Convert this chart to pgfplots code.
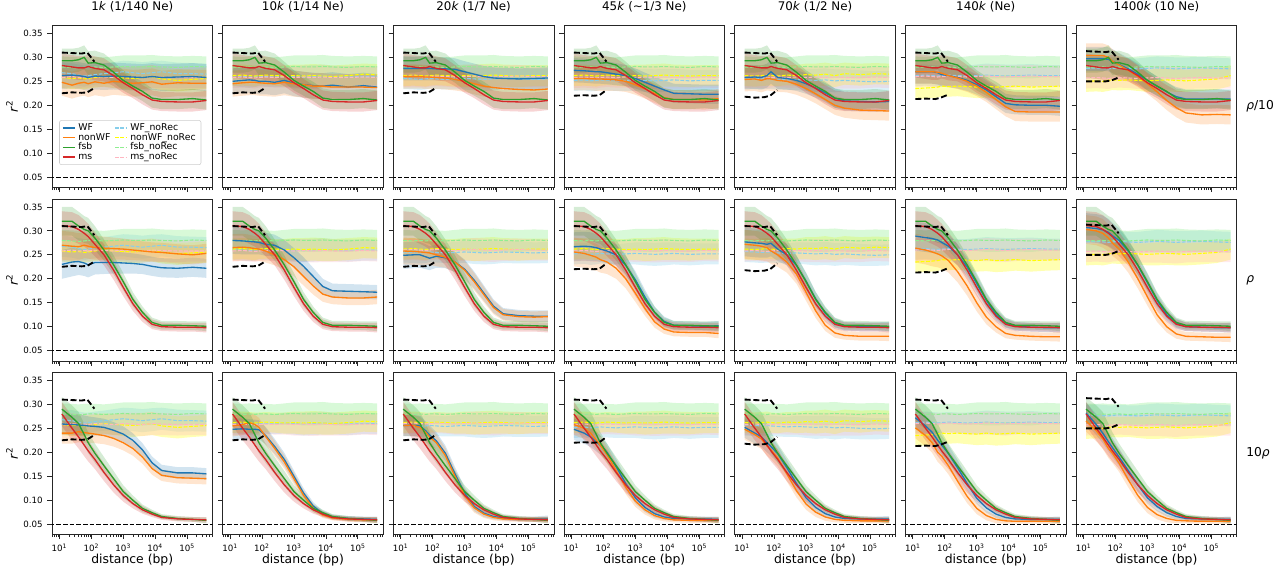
\documentclass[border=0pt]{standalone}
\usepackage{fontspec}
\setmainfont{DejaVu Sans}
\usepackage{pgfplots}
\usepackage{pgfplotstable}
\pgfplotsset{compat=1.18}
\usepgfplotslibrary{fillbetween}

\definecolor{cWF}{HTML}{1F77B4}
\definecolor{cNWF}{HTML}{FF7F0E}
\definecolor{cFSB}{HTML}{2CA02C}
\definecolor{cMS}{HTML}{D62728}
\definecolor{cWFn}{HTML}{87CEEB}
\definecolor{cNWFn}{HTML}{FFFF00}
\definecolor{cFSBn}{HTML}{90EE90}
\definecolor{cMSn}{HTML}{FFB6C1}

\pgfplotstableread{
x fsb ms s
12 0.293 0.283 0.025
25 0.293 0.280 0.025
40 0.295 0.278 0.025
60 0.300 0.278 0.025
80 0.288 0.281 0.025
130 0.289 0.277 0.025
250 0.284 0.274 0.024
500 0.269 0.262 0.022
1000 0.252 0.247 0.021
2000 0.240 0.235 0.020
4000 0.229 0.222 0.020
8000 0.215 0.211 0.020
16000 0.212 0.208 0.020
50000 0.212 0.207 0.020
150000 0.214 0.207 0.020
400000 0.211 0.210 0.020
}\rwa
\pgfplotstableread{
x fsb ms s
12 0.320 0.311 0.030
25 0.320 0.309 0.030
40 0.310 0.303 0.030
60 0.303 0.295 0.028
80 0.300 0.288 0.027
130 0.285 0.272 0.025
250 0.260 0.250 0.022
500 0.229 0.218 0.020
1000 0.194 0.182 0.018
2000 0.157 0.148 0.015
4000 0.130 0.122 0.012
8000 0.109 0.105 0.010
16000 0.103 0.100 0.009
50000 0.103 0.099 0.009
150000 0.102 0.099 0.009
400000 0.101 0.098 0.010
}\rwb
\pgfplotstableread{
x fsb ms s
12 0.290 0.280 0.025
25 0.273 0.250 0.025
40 0.260 0.232 0.024
60 0.237 0.215 0.023
80 0.220 0.203 0.022
130 0.198 0.185 0.020
250 0.172 0.158 0.018
500 0.145 0.132 0.016
1000 0.118 0.110 0.013
2000 0.100 0.093 0.010
4000 0.083 0.080 0.008
8000 0.074 0.071 0.006
16000 0.066 0.064 0.005
50000 0.062 0.061 0.005
150000 0.060 0.060 0.005
400000 0.058 0.059 0.006
}\rwc

\pgfplotstableread{
x wfn nwfn fsbn msn s
12 0.268 0.258 0.280 0.258 0.022
25 0.266 0.256 0.279 0.260 0.022
40 0.263 0.257 0.278 0.258 0.022
60 0.261 0.255 0.279 0.259 0.022
80 0.262 0.256 0.280 0.258 0.021
130 0.264 0.258 0.280 0.260 0.021
250 0.266 0.260 0.279 0.259 0.021
500 0.268 0.258 0.280 0.258 0.022
1000 0.270 0.257 0.281 0.260 0.023
2000 0.268 0.256 0.280 0.259 0.024
4000 0.266 0.258 0.280 0.258 0.024
8000 0.268 0.260 0.281 0.260 0.024
16000 0.270 0.255 0.280 0.259 0.023
50000 0.266 0.252 0.279 0.258 0.023
150000 0.266 0.254 0.281 0.258 0.022
400000 0.265 0.256 0.280 0.258 0.022
}\nra
\pgfplotstableread{
x wfn nwfn fsbn msn s
12 0.262 0.262 0.280 0.258 0.022
25 0.260 0.263 0.279 0.259 0.022
40 0.259 0.262 0.280 0.258 0.022
60 0.260 0.261 0.279 0.257 0.022
80 0.261 0.262 0.280 0.258 0.021
130 0.260 0.263 0.280 0.259 0.021
250 0.259 0.262 0.279 0.258 0.021
500 0.261 0.261 0.280 0.259 0.022
1000 0.260 0.262 0.281 0.258 0.023
2000 0.259 0.261 0.280 0.259 0.024
4000 0.260 0.262 0.280 0.258 0.024
8000 0.261 0.261 0.281 0.259 0.024
16000 0.260 0.260 0.280 0.258 0.023
50000 0.259 0.262 0.279 0.258 0.023
150000 0.260 0.265 0.281 0.259 0.022
400000 0.260 0.264 0.280 0.258 0.022
}\nrb
\pgfplotstableread{
x wfn nwfn fsbn msn s
12 0.256 0.262 0.280 0.260 0.022
25 0.255 0.263 0.279 0.261 0.022
40 0.254 0.262 0.280 0.260 0.022
60 0.255 0.261 0.279 0.259 0.022
80 0.256 0.262 0.280 0.260 0.021
130 0.255 0.263 0.280 0.261 0.021
250 0.254 0.262 0.279 0.260 0.021
500 0.255 0.261 0.280 0.259 0.022
1000 0.256 0.262 0.281 0.260 0.023
2000 0.255 0.261 0.280 0.261 0.024
4000 0.254 0.262 0.280 0.260 0.024
8000 0.255 0.263 0.281 0.259 0.024
16000 0.256 0.262 0.280 0.260 0.023
50000 0.255 0.261 0.279 0.261 0.023
150000 0.254 0.262 0.281 0.260 0.022
400000 0.255 0.262 0.280 0.260 0.022
}\nrc
\pgfplotstableread{
x wfn nwfn fsbn msn s
12 0.252 0.262 0.280 0.258 0.022
25 0.253 0.263 0.279 0.259 0.022
40 0.251 0.262 0.280 0.258 0.022
60 0.252 0.261 0.279 0.257 0.022
80 0.253 0.262 0.280 0.258 0.021
130 0.252 0.263 0.280 0.259 0.021
250 0.251 0.262 0.279 0.258 0.021
500 0.252 0.261 0.280 0.259 0.022
1000 0.253 0.262 0.281 0.258 0.023
2000 0.252 0.261 0.280 0.259 0.024
4000 0.251 0.262 0.280 0.258 0.024
8000 0.252 0.263 0.281 0.259 0.024
16000 0.253 0.262 0.280 0.258 0.023
50000 0.251 0.261 0.279 0.258 0.023
150000 0.252 0.262 0.281 0.259 0.022
400000 0.252 0.262 0.280 0.258 0.022
}\nrd
\pgfplotstableread{
x wfn nwfn fsbn msn s
12 0.257 0.262 0.280 0.258 0.022
25 0.256 0.261 0.279 0.259 0.022
40 0.255 0.262 0.280 0.258 0.022
60 0.256 0.263 0.279 0.257 0.022
80 0.255 0.262 0.280 0.258 0.021
130 0.254 0.261 0.280 0.259 0.021
250 0.253 0.263 0.279 0.258 0.021
500 0.254 0.262 0.280 0.259 0.022
1000 0.253 0.264 0.281 0.258 0.023
2000 0.252 0.263 0.280 0.259 0.024
4000 0.253 0.265 0.280 0.258 0.024
8000 0.251 0.262 0.281 0.259 0.024
16000 0.252 0.266 0.280 0.258 0.023
50000 0.250 0.264 0.279 0.258 0.023
150000 0.249 0.266 0.281 0.259 0.022
400000 0.250 0.265 0.280 0.258 0.022
}\nre
\pgfplotstableread{
x wfn nwfn fsbn msn s
12 0.262 0.235 0.280 0.260 0.022
25 0.263 0.236 0.279 0.261 0.022
40 0.262 0.237 0.280 0.260 0.022
60 0.261 0.238 0.279 0.259 0.022
80 0.262 0.240 0.280 0.260 0.021
130 0.263 0.239 0.280 0.261 0.021
250 0.262 0.240 0.279 0.260 0.021
500 0.261 0.239 0.280 0.259 0.022
1000 0.262 0.238 0.281 0.260 0.023
2000 0.263 0.240 0.280 0.261 0.024
4000 0.262 0.238 0.280 0.260 0.024
8000 0.261 0.239 0.281 0.259 0.024
16000 0.262 0.240 0.280 0.260 0.023
50000 0.263 0.238 0.279 0.261 0.023
150000 0.262 0.239 0.281 0.260 0.022
400000 0.262 0.240 0.280 0.260 0.022
}\nrf
\pgfplotstableread{
x wfn nwfn fsbn msn s
12 0.277 0.250 0.280 0.257 0.022
25 0.278 0.251 0.279 0.258 0.022
40 0.277 0.250 0.280 0.257 0.022
60 0.276 0.252 0.279 0.256 0.022
80 0.277 0.253 0.280 0.257 0.021
130 0.278 0.252 0.280 0.258 0.021
250 0.277 0.253 0.279 0.257 0.021
500 0.276 0.252 0.280 0.256 0.022
1000 0.277 0.251 0.281 0.257 0.023
2000 0.278 0.252 0.280 0.258 0.024
4000 0.277 0.253 0.280 0.257 0.024
8000 0.276 0.252 0.281 0.256 0.024
16000 0.277 0.251 0.280 0.257 0.023
50000 0.278 0.253 0.279 0.258 0.023
150000 0.277 0.255 0.281 0.257 0.022
400000 0.276 0.262 0.280 0.257 0.022
}\nrg

\pgfplotstableread{
x up lo
12 0.310 0.225
25 0.309 0.227
50 0.308 0.226
75 0.310 0.227
125 0.291 0.236
}\bka
\pgfplotstableread{
x up lo
12 0.310 0.220
25 0.309 0.221
50 0.308 0.220
75 0.310 0.221
125 0.291 0.232
}\bkd
\pgfplotstableread{
x up lo
12 0.310 0.218
25 0.309 0.216
50 0.308 0.217
75 0.310 0.220
125 0.291 0.232
}\bke
\pgfplotstableread{
x up lo
12 0.310 0.213
25 0.309 0.214
50 0.308 0.213
75 0.310 0.216
125 0.291 0.222
}\bkf
\pgfplotstableread{
x up lo
12 0.313 0.250
25 0.312 0.250
50 0.311 0.250
75 0.313 0.252
125 0.295 0.258
}\bkg

\pgfplotstableread{
x wf nwf s
12 0.262 0.248 0.028
25 0.263 0.242 0.028
40 0.262 0.246 0.028
60 0.260 0.248 0.028
80 0.258 0.245 0.028
130 0.261 0.249 0.028
250 0.260 0.246 0.028
500 0.261 0.250 0.028
1000 0.260 0.248 0.028
2000 0.259 0.246 0.028
4000 0.258 0.247 0.028
8000 0.260 0.249 0.028
16000 0.258 0.244 0.028
50000 0.259 0.247 0.028
150000 0.260 0.246 0.028
400000 0.258 0.246 0.028
}\paa
\pgfplotstableread{
x wf nwf s
12 0.250 0.245 0.027
25 0.252 0.247 0.027
40 0.253 0.248 0.027
60 0.252 0.248 0.027
80 0.250 0.247 0.027
130 0.250 0.246 0.027
250 0.248 0.245 0.027
500 0.252 0.248 0.027
1000 0.246 0.245 0.027
2000 0.243 0.243 0.027
4000 0.241 0.240 0.027
8000 0.240 0.240 0.027
16000 0.242 0.238 0.027
50000 0.238 0.238 0.027
150000 0.241 0.238 0.027
400000 0.238 0.237 0.027
}\pab
\pgfplotstableread{
x wf nwf s
12 0.277 0.260 0.025
25 0.277 0.260 0.025
40 0.277 0.260 0.025
60 0.277 0.259 0.025
80 0.277 0.259 0.025
130 0.276 0.258 0.024
250 0.276 0.257 0.024
500 0.275 0.254 0.023
1000 0.270 0.250 0.022
2000 0.265 0.245 0.022
4000 0.260 0.240 0.022
8000 0.257 0.237 0.022
16000 0.256 0.235 0.022
50000 0.255 0.233 0.022
150000 0.256 0.232 0.022
400000 0.257 0.234 0.022
}\pac
\pgfplotstableread{
x wf nwf s
12 0.273 0.256 0.025
25 0.272 0.256 0.025
40 0.271 0.256 0.025
60 0.270 0.255 0.025
80 0.270 0.255 0.025
130 0.268 0.254 0.024
250 0.265 0.253 0.023
500 0.262 0.250 0.022
1000 0.256 0.243 0.021
2000 0.248 0.234 0.020
4000 0.240 0.225 0.020
8000 0.232 0.216 0.020
16000 0.225 0.212 0.020
50000 0.224 0.212 0.020
150000 0.223 0.211 0.020
400000 0.223 0.214 0.020
}\pad
\pgfplotstableread{
x wf nwf s
12 0.258 0.254 0.025
25 0.259 0.255 0.025
40 0.258 0.252 0.025
60 0.262 0.256 0.025
80 0.270 0.255 0.025
130 0.258 0.252 0.024
250 0.256 0.250 0.023
500 0.252 0.244 0.022
1000 0.245 0.235 0.021
2000 0.236 0.224 0.020
4000 0.226 0.212 0.020
8000 0.215 0.200 0.020
16000 0.209 0.194 0.020
50000 0.208 0.190 0.020
150000 0.207 0.189 0.020
400000 0.208 0.188 0.020
}\pae
\pgfplotstableread{
x wf nwf s
12 0.270 0.270 0.025
25 0.270 0.270 0.025
40 0.270 0.270 0.025
60 0.268 0.269 0.025
80 0.264 0.267 0.025
130 0.262 0.262 0.024
250 0.258 0.257 0.023
500 0.252 0.250 0.022
1000 0.243 0.240 0.021
2000 0.232 0.227 0.020
4000 0.218 0.212 0.020
8000 0.204 0.197 0.020
16000 0.201 0.187 0.020
50000 0.200 0.186 0.020
150000 0.200 0.186 0.020
400000 0.198 0.186 0.020
}\paf
\pgfplotstableread{
x wf nwf s
12 0.297 0.304 0.025
25 0.297 0.304 0.025
40 0.297 0.304 0.025
60 0.296 0.300 0.025
80 0.292 0.292 0.025
130 0.285 0.284 0.024
250 0.276 0.273 0.023
500 0.265 0.260 0.022
1000 0.252 0.245 0.021
2000 0.240 0.228 0.020
4000 0.228 0.210 0.020
8000 0.218 0.195 0.020
16000 0.213 0.184 0.020
50000 0.213 0.180 0.020
150000 0.213 0.181 0.020
400000 0.213 0.180 0.020
}\pag
\pgfplotstableread{
x wf nwf s
12 0.230 0.270 0.030
25 0.235 0.268 0.030
40 0.236 0.267 0.028
60 0.233 0.270 0.027
80 0.229 0.268 0.026
130 0.234 0.265 0.025
250 0.234 0.264 0.024
500 0.234 0.263 0.023
1000 0.233 0.262 0.022
2000 0.232 0.260 0.021
4000 0.230 0.258 0.020
8000 0.226 0.256 0.020
16000 0.223 0.255 0.020
50000 0.222 0.252 0.020
150000 0.224 0.250 0.020
400000 0.222 0.253 0.020
}\pba
\pgfplotstableread{
x wf nwf s
12 0.280 0.265 0.028
25 0.279 0.266 0.028
40 0.278 0.265 0.027
60 0.277 0.263 0.026
80 0.276 0.262 0.025
130 0.272 0.258 0.024
250 0.270 0.250 0.022
500 0.260 0.240 0.021
1000 0.244 0.225 0.020
2000 0.226 0.205 0.019
4000 0.205 0.185 0.018
8000 0.184 0.168 0.016
16000 0.175 0.162 0.015
50000 0.174 0.160 0.015
150000 0.173 0.160 0.015
400000 0.172 0.162 0.015
}\pbb
\pgfplotstableread{
x wf nwf s
12 0.249 0.258 0.028
25 0.250 0.257 0.028
40 0.250 0.256 0.027
60 0.246 0.255 0.026
80 0.243 0.254 0.025
130 0.247 0.250 0.024
250 0.244 0.245 0.022
500 0.235 0.235 0.021
1000 0.220 0.218 0.020
2000 0.197 0.194 0.018
4000 0.170 0.167 0.016
8000 0.143 0.140 0.014
16000 0.127 0.125 0.012
50000 0.123 0.121 0.012
150000 0.122 0.120 0.012
400000 0.122 0.121 0.012
}\pbc
\pgfplotstableread{
x wf nwf s
12 0.267 0.256 0.030
25 0.268 0.253 0.030
40 0.267 0.249 0.030
60 0.265 0.245 0.028
80 0.262 0.240 0.027
130 0.258 0.235 0.025
250 0.250 0.222 0.022
500 0.228 0.200 0.020
1000 0.198 0.170 0.018
2000 0.162 0.138 0.015
4000 0.130 0.110 0.012
8000 0.111 0.095 0.010
16000 0.103 0.089 0.009
50000 0.102 0.088 0.009
150000 0.101 0.088 0.009
400000 0.102 0.086 0.010
}\pbd
\pgfplotstableread{
x wf nwf s
12 0.277 0.272 0.030
25 0.275 0.270 0.030
40 0.274 0.268 0.030
60 0.272 0.265 0.028
80 0.274 0.258 0.027
130 0.262 0.250 0.025
250 0.250 0.235 0.022
500 0.228 0.210 0.020
1000 0.195 0.172 0.018
2000 0.158 0.133 0.015
4000 0.128 0.103 0.012
8000 0.108 0.087 0.010
16000 0.101 0.082 0.009
50000 0.100 0.080 0.009
150000 0.100 0.080 0.009
400000 0.100 0.080 0.010
}\pbe
\pgfplotstableread{
x wf nwf s
12 0.289 0.264 0.030
25 0.286 0.260 0.030
40 0.284 0.256 0.030
60 0.281 0.252 0.028
80 0.276 0.248 0.027
130 0.268 0.238 0.025
250 0.250 0.215 0.022
500 0.225 0.185 0.020
1000 0.190 0.150 0.018
2000 0.155 0.120 0.015
4000 0.125 0.100 0.012
8000 0.108 0.086 0.010
16000 0.101 0.082 0.009
50000 0.099 0.080 0.009
150000 0.098 0.079 0.009
400000 0.098 0.079 0.010
}\pbf
\pgfplotstableread{
x wf nwf s
12 0.307 0.303 0.030
25 0.305 0.300 0.030
40 0.302 0.295 0.030
60 0.297 0.285 0.028
80 0.290 0.275 0.027
130 0.280 0.262 0.025
250 0.258 0.235 0.022
500 0.228 0.200 0.020
1000 0.192 0.162 0.018
2000 0.155 0.125 0.015
4000 0.125 0.100 0.012
8000 0.107 0.085 0.010
16000 0.100 0.080 0.009
50000 0.099 0.079 0.009
150000 0.098 0.078 0.009
400000 0.098 0.078 0.010
}\pbg
\pgfplotstableread{
x wf nwf s
12 0.259 0.240 0.022
25 0.258 0.240 0.022
40 0.257 0.243 0.022
60 0.256 0.241 0.021
80 0.255 0.240 0.020
130 0.254 0.238 0.019
250 0.252 0.235 0.018
500 0.246 0.229 0.017
1000 0.238 0.220 0.016
2000 0.225 0.208 0.015
4000 0.205 0.190 0.014
8000 0.178 0.166 0.013
16000 0.162 0.152 0.012
50000 0.157 0.147 0.012
150000 0.157 0.146 0.012
400000 0.155 0.145 0.012
}\pca
\pgfplotstableread{
x wf nwf s
12 0.248 0.255 0.022
25 0.249 0.258 0.022
40 0.248 0.262 0.021
60 0.248 0.258 0.020
80 0.247 0.252 0.020
130 0.235 0.233 0.018
250 0.212 0.208 0.016
500 0.185 0.180 0.014
1000 0.150 0.145 0.012
2000 0.115 0.110 0.010
4000 0.088 0.084 0.008
8000 0.072 0.069 0.006
16000 0.065 0.063 0.005
50000 0.062 0.060 0.005
150000 0.061 0.059 0.005
400000 0.060 0.059 0.006
}\pcb
\pgfplotstableread{
x wf nwf s
12 0.256 0.256 0.022
25 0.256 0.256 0.022
40 0.255 0.252 0.021
60 0.245 0.242 0.020
80 0.236 0.232 0.020
130 0.224 0.220 0.018
250 0.198 0.193 0.016
500 0.155 0.150 0.014
1000 0.115 0.110 0.012
2000 0.087 0.084 0.010
4000 0.073 0.071 0.008
8000 0.066 0.064 0.006
16000 0.063 0.061 0.005
50000 0.061 0.060 0.005
150000 0.061 0.060 0.005
400000 0.062 0.060 0.006
}\pcc
\pgfplotstableread{
x wf nwf s
12 0.248 0.258 0.022
25 0.240 0.250 0.022
40 0.232 0.240 0.021
60 0.222 0.225 0.020
80 0.215 0.215 0.020
130 0.200 0.195 0.018
250 0.170 0.162 0.016
500 0.135 0.127 0.014
1000 0.105 0.098 0.012
2000 0.085 0.080 0.010
4000 0.072 0.068 0.008
8000 0.065 0.062 0.006
16000 0.062 0.059 0.005
50000 0.061 0.058 0.005
150000 0.061 0.058 0.005
400000 0.060 0.058 0.006
}\pcd
\pgfplotstableread{
x wf nwf s
12 0.252 0.248 0.022
25 0.240 0.237 0.022
40 0.232 0.228 0.021
60 0.220 0.213 0.020
80 0.212 0.205 0.020
130 0.197 0.188 0.018
250 0.168 0.155 0.016
500 0.135 0.120 0.014
1000 0.105 0.092 0.012
2000 0.085 0.075 0.010
4000 0.072 0.065 0.008
8000 0.065 0.060 0.006
16000 0.062 0.058 0.005
50000 0.061 0.057 0.005
150000 0.061 0.057 0.005
400000 0.061 0.057 0.006
}\pce
\pgfplotstableread{
x wf nwf s
12 0.272 0.251 0.022
25 0.255 0.235 0.022
40 0.242 0.220 0.021
60 0.225 0.200 0.020
80 0.215 0.192 0.020
130 0.197 0.172 0.018
250 0.168 0.140 0.016
500 0.135 0.108 0.014
1000 0.104 0.083 0.012
2000 0.084 0.068 0.010
4000 0.071 0.060 0.008
8000 0.064 0.057 0.006
16000 0.061 0.056 0.005
50000 0.060 0.056 0.005
150000 0.060 0.056 0.005
400000 0.060 0.056 0.006
}\pcf
\pgfplotstableread{
x wf nwf s
12 0.282 0.265 0.022
25 0.258 0.245 0.022
40 0.240 0.228 0.021
60 0.222 0.208 0.020
80 0.210 0.198 0.020
130 0.190 0.177 0.018
250 0.162 0.143 0.016
500 0.132 0.110 0.014
1000 0.105 0.085 0.012
2000 0.087 0.070 0.010
4000 0.074 0.062 0.008
8000 0.066 0.058 0.006
16000 0.062 0.057 0.005
50000 0.061 0.056 0.005
150000 0.060 0.056 0.005
400000 0.060 0.056 0.006
}\pcg

\tikzset{
  recl/.style={line width=1.0pt},
  nrl/.style={line width=0.8pt, dash pattern=on 2.8pt off 1.2pt},
  blk/.style={black, line width=1.4pt, dash pattern=on 4.5pt off 2pt},
  hzl/.style={black, line width=0.75pt, dash pattern=on 3.5pt off 1.5pt},
}
\pgfplotsset{legend image code/.code={\draw[#1] (0pt,0pt) -- (9pt,0pt);}}

\newcommand{\band}[4]{%
  \addplot[draw=none, forget plot, name path=u#2] table[x=x, y expr=\thisrow{#2}+\thisrow{s}] {#1};
  \addplot[draw=none, forget plot, name path=l#2] table[x=x, y expr=\thisrow{#2}-\thisrow{s}] {#1};
  \addplot[fill=#3, fill opacity=#4, draw=none, forget plot] fill between[of=u#2 and l#2];}

% #1 x, #2 y, #3 panel table, #4 row table, #5 noRec table, #6 black table, #7 options, #8 extra
\newcommand{\panel}[8]{%
\begin{semilogxaxis}[
    anchor=south west, at={(#1,#2)}, scale only axis, width=120.375pt, height=121.5pt,
    xmin=5.9, xmax=6.2e5, ymin=0.0285, ymax=0.3665,
    axis line style={black!85, line width=0.6pt},
    tick align=outside, xtick pos=bottom, ytick pos=left,
    major tick length=3.5pt, minor tick length=2pt,
    tick style={black!85, line width=0.6pt},
    minor tick style={line width=0.45pt},
    xtick={10,100,1000,10000,100000},
    minor xtick={6,7,8,9,20,30,40,50,60,70,80,90,200,300,400,500,600,700,800,900,2000,3000,4000,5000,6000,7000,8000,9000,20000,30000,40000,50000,60000,70000,80000,90000,200000,300000,400000,500000,600000},
    ytick={0.05,0.1,0.15,0.2,0.25,0.3,0.35},
    xticklabels={}, yticklabels={},
    ticklabel style={font=\fontsize{6.5}{7}\selectfont},
    xlabel style={font=\fontsize{9.3}{10}\selectfont, at={(axis description cs:0.5,0)}, anchor=base, yshift=-21.4pt},
    ylabel style={font=\fontsize{9.3}{10}\selectfont, at={(axis description cs:-0.249,0.5)}, anchor=center},
    title style={font=\fontsize{8.9}{10}\selectfont, at={(axis description cs:0.5,1)}, anchor=base, yshift=4.9pt},
    #7]
  \band{#5}{wfn}{cWFn}{0.3}
  \band{#5}{nwfn}{cNWFn}{0.3}
  \band{#5}{fsbn}{cFSBn}{0.35}
  \band{#5}{msn}{cMSn}{0.3}
  \band{#3}{wf}{cWF}{0.2}
  \band{#3}{nwf}{cNWF}{0.2}
  \band{#4}{fsb}{cFSB}{0.2}
  \band{#4}{ms}{cMS}{0.2}
  \addplot[nrl, color=cWFn, forget plot] table[x=x, y=wfn] {#5};
  \addplot[nrl, color=cNWFn, forget plot] table[x=x, y=nwfn] {#5};
  \addplot[nrl, color=cFSBn, forget plot] table[x=x, y=fsbn] {#5};
  \addplot[nrl, color=cMSn, forget plot] table[x=x, y=msn] {#5};
  \addplot[recl, color=cWF, forget plot] table[x=x, y=wf] {#3};
  \addplot[recl, color=cNWF, forget plot] table[x=x, y=nwf] {#3};
  \addplot[recl, color=cFSB, forget plot] table[x=x, y=fsb] {#4};
  \addplot[recl, color=cMS, forget plot] table[x=x, y=ms] {#4};
  \addplot[blk, forget plot] table[x=x, y=up] {#6};
  \addplot[blk, forget plot] table[x=x, y=lo] {#6};
  \addplot[hzl, forget plot] coordinates {(5,0.05) (700000,0.05)};
  #8
\end{semilogxaxis}}

\begin{document}
\begin{tikzpicture}
% ---- row 1 ----
\panel{39pt}{287.625pt}{\paa}{\rwa}{\nra}{\bka}{title={1\textit{k} (1/140 Ne)},
  ylabel={\textit{r}\textsuperscript{2}}, yticklabels={0.05,0.10,0.15,0.20,0.25,0.30,0.35},
  legend columns=2,
  legend style={at={(axis description cs:0.045,0.139)}, anchor=south west, draw=black!20, rounded corners=1.5pt, fill=white, font=\fontsize{7}{7}\selectfont, inner sep=2pt,
    nodes={inner ysep=0.2pt, inner xsep=2pt, text height=5.3pt, text depth=1.6pt},
    /tikz/every even column/.append style={column sep=1pt}},
  legend cell align=left}
  {\addlegendimage{line width=1.1pt, draw=cWF}\addlegendentry{WF}
   \addlegendimage{line width=0.9pt, dash pattern=on 2.8pt off 1.2pt, draw=cWFn}\addlegendentry{WF\_noRec}
   \addlegendimage{line width=1.1pt, draw=cNWF}\addlegendentry{nonWF}
   \addlegendimage{line width=0.9pt, dash pattern=on 2.8pt off 1.2pt, draw=cNWFn}\addlegendentry{nonWF\_noRec}
   \addlegendimage{line width=1.1pt, draw=cFSB}\addlegendentry{fsb}
   \addlegendimage{line width=0.9pt, dash pattern=on 2.8pt off 1.2pt, draw=cFSBn}\addlegendentry{fsb\_noRec}
   \addlegendimage{line width=1.1pt, draw=cMS}\addlegendentry{ms}
   \addlegendimage{line width=0.9pt, dash pattern=on 2.8pt off 1.2pt, draw=cMSn}\addlegendentry{ms\_noRec}}
\panel{167.03pt}{287.625pt}{\pab}{\rwa}{\nrb}{\bka}{title={10\textit{k} (1/14 Ne)}}{}
\panel{295.05pt}{287.625pt}{\pac}{\rwa}{\nrc}{\bka}{title={20\textit{k} (1/7 Ne)}}{}
\panel{423.08pt}{287.625pt}{\pad}{\rwa}{\nrd}{\bkd}{title={45\textit{k} (\textasciitilde1/3 Ne)}}{}
\panel{551.1pt}{287.625pt}{\pae}{\rwa}{\nre}{\bke}{title={70\textit{k} (1/2 Ne)}}{}
\panel{679.13pt}{287.625pt}{\paf}{\rwa}{\nrf}{\bkf}{title={140\textit{k} (Ne)}}{}
\panel{807.15pt}{287.625pt}{\pag}{\rwa}{\nrg}{\bkg}{title={1400\textit{k} (10 Ne)}}{}
% ---- row 2 ----
\panel{39pt}{157.5pt}{\pba}{\rwb}{\nra}{\bka}{ylabel={\textit{r}\textsuperscript{2}}, yticklabels={0.05,0.10,0.15,0.20,0.25,0.30,0.35}}{}
\panel{167.03pt}{157.5pt}{\pbb}{\rwb}{\nrb}{\bka}{}{}
\panel{295.05pt}{157.5pt}{\pbc}{\rwb}{\nrc}{\bka}{}{}
\panel{423.08pt}{157.5pt}{\pbd}{\rwb}{\nrd}{\bkd}{}{}
\panel{551.1pt}{157.5pt}{\pbe}{\rwb}{\nre}{\bke}{}{}
\panel{679.13pt}{157.5pt}{\pbf}{\rwb}{\nrf}{\bkf}{}{}
\panel{807.15pt}{157.5pt}{\pbg}{\rwb}{\nrg}{\bkg}{}{}
% ---- row 3 ----
\panel{39pt}{27.375pt}{\pca}{\rwc}{\nra}{\bka}{ylabel={\textit{r}\textsuperscript{2}}, yticklabels={0.05,0.10,0.15,0.20,0.25,0.30,0.35}, xticklabels={10\textsuperscript{1},10\textsuperscript{2},10\textsuperscript{3},10\textsuperscript{4},10\textsuperscript{5}}, xlabel={distance (bp)}}{}
\panel{167.03pt}{27.375pt}{\pcb}{\rwc}{\nrb}{\bka}{xticklabels={10\textsuperscript{1},10\textsuperscript{2},10\textsuperscript{3},10\textsuperscript{4},10\textsuperscript{5}}, xlabel={distance (bp)}}{}
\panel{295.05pt}{27.375pt}{\pcc}{\rwc}{\nrc}{\bka}{xticklabels={10\textsuperscript{1},10\textsuperscript{2},10\textsuperscript{3},10\textsuperscript{4},10\textsuperscript{5}}, xlabel={distance (bp)}}{}
\panel{423.08pt}{27.375pt}{\pcd}{\rwc}{\nrd}{\bkd}{xticklabels={10\textsuperscript{1},10\textsuperscript{2},10\textsuperscript{3},10\textsuperscript{4},10\textsuperscript{5}}, xlabel={distance (bp)}}{}
\panel{551.1pt}{27.375pt}{\pce}{\rwc}{\nre}{\bke}{xticklabels={10\textsuperscript{1},10\textsuperscript{2},10\textsuperscript{3},10\textsuperscript{4},10\textsuperscript{5}}, xlabel={distance (bp)}}{}
\panel{679.13pt}{27.375pt}{\pcf}{\rwc}{\nrf}{\bkf}{xticklabels={10\textsuperscript{1},10\textsuperscript{2},10\textsuperscript{3},10\textsuperscript{4},10\textsuperscript{5}}, xlabel={distance (bp)}}{}
\panel{807.15pt}{27.375pt}{\pcg}{\rwc}{\nrg}{\bkg}{xticklabels={10\textsuperscript{1},10\textsuperscript{2},10\textsuperscript{3},10\textsuperscript{4},10\textsuperscript{5}}, xlabel={distance (bp)}}{}
% ---- row labels ----
\node[anchor=west, inner sep=0pt, font=\fontsize{9.2}{10}\selectfont] at (934.5pt,348.4pt) {\textit{ρ}/10};
\node[anchor=west, inner sep=0pt, font=\fontsize{9.2}{10}\selectfont] at (934.5pt,218.25pt) {\textit{ρ}};
\node[anchor=west, inner sep=0pt, font=\fontsize{9.2}{10}\selectfont] at (934.5pt,88.1pt) {10\textit{ρ}};
\pgfresetboundingbox
\path (0pt,0pt) rectangle (963.75pt,428.25pt);
\end{tikzpicture}
\end{document}
